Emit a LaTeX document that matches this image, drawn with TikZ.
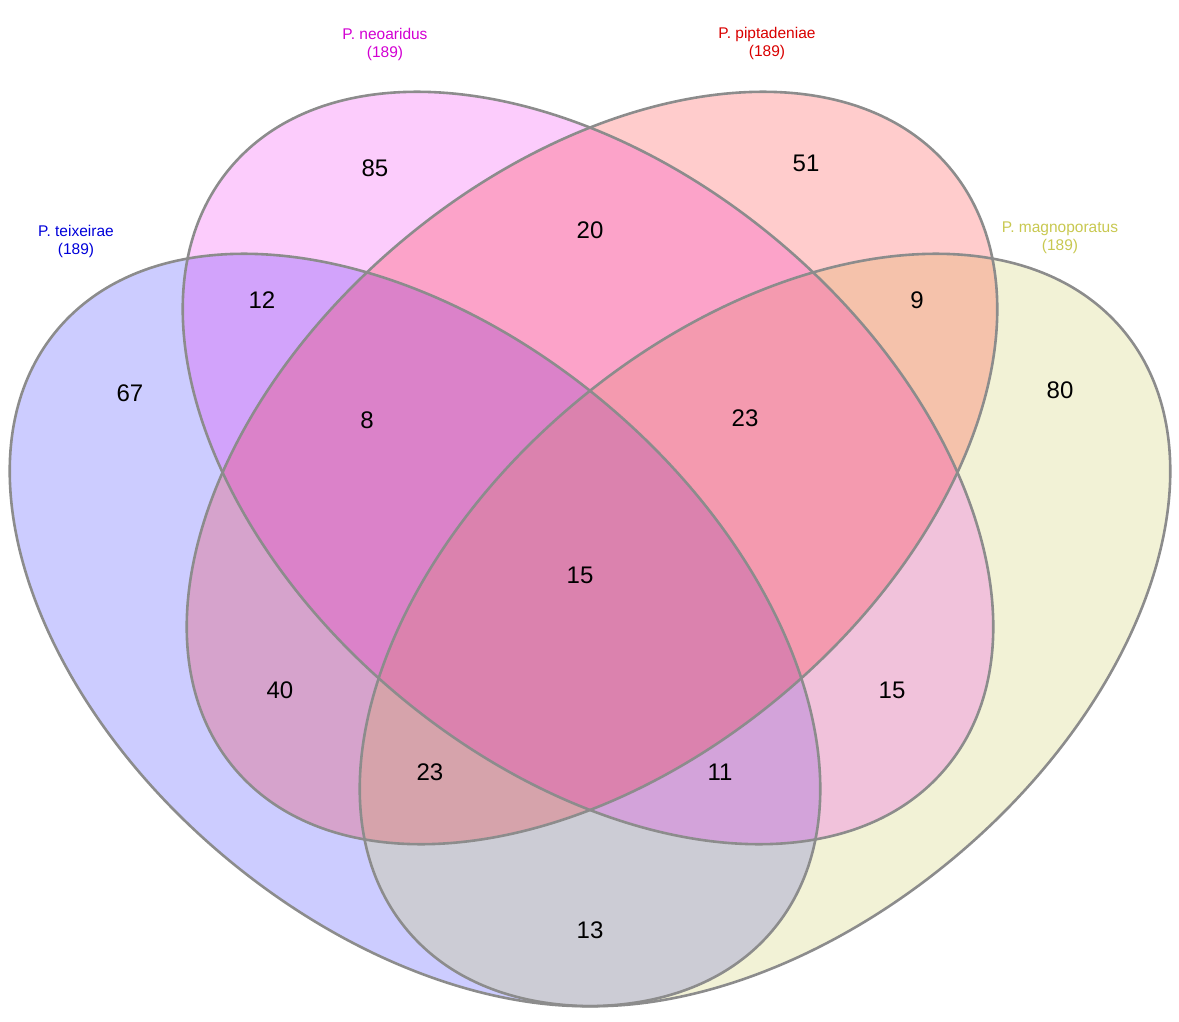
\documentclass[tikz,border=0pt]{standalone}
\usepackage{fontspec}
\setmainfont{Liberation Sans}
\begin{document}
\begin{tikzpicture}[x=1pt,y=-1pt,
  num/.style={font=\fontsize{24}{28}\selectfont},
  lab/.style={font=\fontsize{15.5}{18}\selectfont, align=center},
  edge/.style={draw=black!45, line width=2.6pt}]
\useasboundingbox (0,0) rectangle (1179,1022);
\definecolor{cB}{RGB}{0,0,255}
\definecolor{cM}{RGB}{238,0,238}
\definecolor{cR}{RGB}{255,0,0}
\definecolor{cY}{RGB}{205,205,90}
\definecolor{lM}{RGB}{210,0,210}
\definecolor{lY}{RGB}{200,200,80}
% fills
\fill[cB, fill opacity=0.2, rotate around={-40:(415,630)}] (415,630) ellipse [x radius=467pt, y radius=296pt];
\fill[cY, fill opacity=0.25, rotate around={40:(765,630)}] (765,630) ellipse [x radius=467pt, y radius=296pt];
\fill[cM, fill opacity=0.2, rotate around={-40:(588,468)}] (588,468) ellipse [x radius=467pt, y radius=296pt];
\fill[cR, fill opacity=0.2, rotate around={40:(592,468)}] (592,468) ellipse [x radius=467pt, y radius=296pt];
% edges
\draw[edge, rotate around={-40:(415,630)}] (415,630) ellipse [x radius=467pt, y radius=296pt];
\draw[edge, rotate around={40:(765,630)}] (765,630) ellipse [x radius=467pt, y radius=296pt];
\draw[edge, rotate around={-40:(588,468)}] (588,468) ellipse [x radius=467pt, y radius=296pt];
\draw[edge, rotate around={40:(592,468)}] (592,468) ellipse [x radius=467pt, y radius=296pt];
% labels
\node[lab, text=lM] (ln) at (385,44) {P. neoaridus\\(189)};
\node[lab, text=red!85!black] (lp) at (767,43) {P. piptadeniae\\(189)};
\node[lab, text=blue!85!black] (lt) at (76,241) {P. teixeirae\\(189)};
\node[lab, text=lY] (lm) at (1060,238) {P. magnoporatus\\(189)};
% numbers
\node[num] (n1) at (375,168) {85};
\node[num] (n2) at (806,163) {51};
\node[num] (n3) at (590,230) {20};
\node[num] (n4) at (262,300) {12};
\node[num] (n5) at (917,300) {9};
\node[num] (n6) at (130,393) {67};
\node[num] (n7) at (1060,390) {80};
\node[num] (n8) at (367,420) {8};
\node[num] (n9) at (745,418) {23};
\node[num] (n10) at (580,575) {15};
\node[num] (n11) at (280,690) {40};
\node[num] (n12) at (892,690) {15};
\node[num] (n13) at (430,772) {23};
\node[num] (n14) at (720,772) {11};
\node[num] (n15) at (590,930) {13};
\end{tikzpicture}
\end{document}
